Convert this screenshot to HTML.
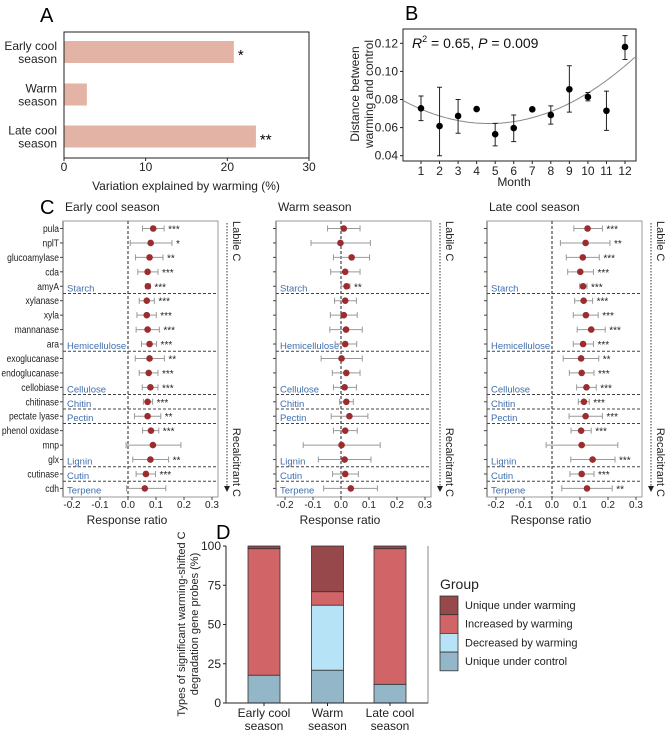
<!DOCTYPE html>
<html><head><meta charset="utf-8"><style>
body{margin:0;background:#fff}
svg{display:block;font-family:"Liberation Sans",Arial,sans-serif}
</style></head><body>
<svg id="fig" width="666" height="732" viewBox="0 0 666 732" xmlns="http://www.w3.org/2000/svg">
<g id="pA"></g>
<g id="pB"></g>
<g id="pC"></g>
<g id="pD"></g>
</svg>
<script>
// ---------- Panel A data ----------
const aCategories = [["Early cool","season"],["Warm","season"],["Late cool","season"]];
const aValues = [20.8, 2.8, 23.5];
const aSig = ["*","","**"];
const aTicks = [0,10,20,30];
// ---------- Panel B data ----------
const bMonths = [1,2,3,4,5,6,7,8,9,10,11,12];
const bMeans = [0.0737,0.0611,0.0683,0.0732,0.0553,0.0597,0.0730,0.0690,0.0873,0.0818,0.0720,0.1174];
const bLow = [0.065,0.040,0.056,null,0.047,0.050,null,0.0625,0.071,0.079,0.058,0.1085];
const bHigh = [0.0825,0.0887,0.080,null,0.063,0.069,null,0.0755,0.104,0.085,0.086,0.1255];
const bTicks = [0.04,0.06,0.08,0.10,0.12];
const bFit = [0.0795,-0.00712,0.000763];
// ---------- Panel C data ----------
const cGenes = ["pula","nplT","glucoamylase","cda","amyA","xylanase","xyla","mannanase","ara","exoglucanase","endoglucanase","cellobiase","chitinase","pectate lyase","phenol oxidase","mnp","glx","cutinase","cdh"];
const cGroups = [["Starch",4],["Hemicellulose",8],["Cellulose",11],["Chitin",12],["Pectin",13],["Lignin",16],["Cutin",17],["Terpene",18]];
const cTitles = ["Early cool season","Warm season","Late cool season"];
const cTicks = [-0.2,-0.1,0.0,0.1,0.2,0.3];
const earlyMean = [0.090,0.081,0.077,0.070,0.071,0.067,0.067,0.070,0.077,0.077,0.074,0.080,0.070,0.070,0.082,0.089,0.080,0.064,0.060];
const earlyLow  = [0.052,0.008,0.027,0.035,0.063,0.040,0.032,0.029,0.048,0.026,0.040,0.051,0.055,0.023,0.052,-0.007,0.017,0.029,-0.005];
const earlyHigh = [0.129,0.157,0.125,0.107,0.080,0.094,0.101,0.112,0.102,0.130,0.107,0.107,0.088,0.117,0.110,0.189,0.145,0.098,0.135];
const earlySig  = ["***","*","**","***","***","***","***","***","***","**","***","***","***","**","***","","**","***",""];
const warmMean = [0.010,-0.002,0.038,0.015,0.020,0.015,0.010,0.018,0.015,0.002,0.019,0.013,0.019,0.030,0.015,0.002,0.013,0.015,0.035];
const warmLow  = [-0.048,-0.107,-0.027,-0.037,0.001,-0.023,-0.038,-0.040,-0.021,-0.071,-0.031,-0.027,-0.005,-0.035,-0.027,-0.135,-0.081,-0.030,-0.062];
const warmHigh = [0.068,0.105,0.102,0.068,0.032,0.055,0.058,0.076,0.056,0.076,0.068,0.055,0.044,0.096,0.058,0.140,0.107,0.062,0.130];
const warmSig  = ["","","","","**","","","","","","","","","","","","","",""];
const lateMean = [0.127,0.120,0.110,0.101,0.111,0.113,0.121,0.140,0.111,0.104,0.106,0.123,0.114,0.120,0.104,0.106,0.145,0.106,0.125];
const lateLow  = [0.078,0.030,0.051,0.056,0.099,0.081,0.076,0.090,0.076,0.040,0.062,0.088,0.094,0.061,0.068,-0.021,0.067,0.064,0.035];
const lateHigh = [0.180,0.207,0.169,0.148,0.125,0.145,0.165,0.190,0.148,0.167,0.150,0.158,0.133,0.180,0.140,0.235,0.225,0.150,0.215];
const lateSig  = ["***","**","***","***","***","***","***","***","***","**","***","***","***","***","***","","***","***","**"];
// ---------- Panel D data ----------
const dCategories = [["Early cool","season"],["Warm","season"],["Late cool","season"]];
const dControl = [17.7,20.9,11.9];
const dDecreased = [0,41.4,0];
const dIncreased = [80.6,8.6,86.4];
const dUniqueW = [1.7,29.1,1.7];
const dTicks = [0,25,50,75,100];
const dLegend = ["Unique under warming","Increased by warming","Decreased by warming","Unique under control"];
const dColors = ["#96484b","#d06466","#b7e3f7","#94b6c9"];

const NS="http://www.w3.org/2000/svg";
function mk(parent,tag,attrs,text){const e=document.createElementNS(NS,tag);for(const k in attrs)e.setAttribute(k,attrs[k]);if(text!==undefined)e.textContent=text;parent.appendChild(e);return e;}

// ===== Panel A =====
(function(){
const g=document.getElementById('pA');
const L=64,R=309,T=32,B=158;
const x=v=>L+(v-0)/(30-0)*(R-L);
const yc=[52,94.5,136.5];
const lab=mk(g,'text',{x:40,y:22,'font-size':20},'A');

aValues.forEach((v,i)=>{
 const r=mk(g,'rect',{x:L,y:yc[i]-11,width:x(v)-L,height:22,fill:'#e3b3a5'});
 
 
 if(aSig[i]){const s=mk(g,'text',{x:x(v)+4,y:yc[i]+8,'font-size':15},aSig[i]);
 }
 aCategories[i].forEach((t,j)=>{const tx=mk(g,'text',{x:57,y:yc[i]-2+j*13,'font-size':12,'text-anchor':'end',fill:'#222'},t);
 });
});
const bx=mk(g,'rect',{x:L,y:T,width:R-L,height:B-T,fill:'none',stroke:'#222','stroke-width':1});

aTicks.forEach(t=>{mk(g,'line',{x1:x(t),x2:x(t),y1:B,y2:B+3,stroke:'#222'});
 const tx=mk(g,'text',{x:x(t),y:171,'font-size':12,'text-anchor':'middle',fill:'#222'},t);
 });
const xt=mk(g,'text',{x:186,y:190,'font-size':12,'text-anchor':'middle',fill:'#222'},'Variation explained by warming (%)');

})();

// ===== Panel B =====
(function(){
const g=document.getElementById('pB');
const L=403,R=636,T=29,B=161;
const x=m=>421+(m-1)*(625-421)/11;
const y=v=>43.3+(0.12-v)/0.08*(155.7-43.3);
const lab=mk(g,'text',{x:405,y:20,'font-size':20},'B');

const bx=mk(g,'rect',{x:L,y:T,width:R-L,height:B-T,fill:'none',stroke:'#222'});

bTicks.forEach(t=>{mk(g,'line',{x1:L-3,x2:L,y1:y(t),y2:y(t),stroke:'#222'});
 const tx=mk(g,'text',{x:L-5,y:y(t)+4,'font-size':12,'text-anchor':'end',fill:'#222'},t.toFixed(2));
 });
bMonths.forEach(m=>{mk(g,'line',{x1:x(m),x2:x(m),y1:B,y2:B+3,stroke:'#222'});
 const tx=mk(g,'text',{x:x(m),y:175,'font-size':12,'text-anchor':'middle',fill:'#222'},m);
 });
let d='';for(let m=0.03;m<=12.6;m+=0.1){const v=bFit[0]+bFit[1]*m+bFit[2]*m*m;d+=(d?'L':'M')+x(m).toFixed(1)+','+y(v).toFixed(1);}
const fl=mk(g,'path',{d:d,fill:'none',stroke:'#888','stroke-width':1});

bMonths.forEach((m,i)=>{
 if(bLow[i]!==null){const e=mk(g,'path',{d:`M${x(m)-2.5},${y(bHigh[i])}H${x(m)+2.5}M${x(m)},${y(bHigh[i])}V${y(bLow[i])}M${x(m)-2.5},${y(bLow[i])}H${x(m)+2.5}`,stroke:'#222',fill:'none'});
 }
 const c=mk(g,'circle',{cx:x(m),cy:y(bMeans[i]),r:3.3,fill:'#000'});
 
});
const st=mk(g,'text',{x:412,y:48,'font-size':14,fill:'#111'});

st.innerHTML='<tspan font-style="italic">R</tspan><tspan font-size="9" dy="-6">2</tspan><tspan dy="6"> = 0.65, </tspan><tspan font-style="italic">P</tspan><tspan> = 0.009</tspan>';
const xt=mk(g,'text',{x:514,y:186,'font-size':12,'text-anchor':'middle',fill:'#222'},'Month');

const yt=mk(g,'text',{transform:'translate(366,94) rotate(-90)','font-size':12,'text-anchor':'middle',fill:'#222'});

yt.innerHTML='<tspan x="0" dy="-7">Distance between</tspan><tspan x="0" dy="14">warming and control</tspan>';
})();

// ===== Panel C =====
(function(){
const g=document.getElementById('pC');
const lab=mk(g,'text',{x:40,y:214,'font-size':20},'C');

const lefts=[63,276,487];
const means=[earlyMean,warmMean,lateMean],lows=[earlyLow,warmLow,lateLow],highs=[earlyHigh,warmHigh,lateHigh],sigs=[earlySig,warmSig,lateSig];
const T=221,B=497,W=155;
const y=i=>228.5+i*14.44;
lefts.forEach((L,p)=>{
 const sg=mk(g,'g',{});
 
 const x=v=>L+65+v*280;
 const tt=mk(sg,'text',{x:L+2,y:211,'font-size':12,fill:'#222'},cTitles[p]);
 
 const bx=mk(sg,'rect',{x:L,y:T,width:W,height:B-T,fill:'none',stroke:'#999'});
 
 mk(sg,'line',{x1:L,x2:L,y1:T,y2:B,stroke:'#aaa','stroke-width':2});
 mk(sg,'line',{x1:x(0),x2:x(0),y1:T,y2:B,stroke:'#222','stroke-dasharray':'3,2'});
 cGroups.forEach((gr,k)=>{
  if(k<cGroups.length-1){const yy=(y(gr[1])+y(gr[1]+1))/2;mk(sg,'line',{x1:L,x2:L+W,y1:yy,y2:yy,stroke:'#444','stroke-dasharray':'3,2'});}
  const t=mk(sg,'text',{x:L+4,y:y(gr[1])+5,'font-size':9.5,fill:'#3f6fae'},gr[0]);
  
 });
 const lg=mk(sg,'g',{transform:`translate(${L-4},0) scale(0.85,1)`});
 cGenes.forEach((gn,i)=>{
  mk(sg,'line',{x1:L-3,x2:L,y1:y(i),y2:y(i),stroke:'#444'});
  if(p===0){const t=mk(lg,'text',{x:0,y:y(i)+3.5,'font-size':10,'text-anchor':'end',fill:'#222'},gn);
  }
  const lo=x(lows[p][i]),hi=x(highs[p][i]),yy=y(i);
  const e=mk(sg,'path',{d:`M${lo},${yy-3}V${yy+3}M${lo},${yy}H${hi}M${hi},${yy-3}V${yy+3}`,stroke:'#999',fill:'none'});
  
  const c=mk(sg,'circle',{cx:x(means[p][i]),cy:yy,r:3.3,fill:'#9b2d30'});
  
  if(sigs[p][i]){const s=mk(sg,'text',{x:hi+4,y:yy+4,'font-size':10,fill:'#222'},sigs[p][i]);
  }
 });
 cTicks.forEach(t=>{mk(sg,'line',{x1:x(t),x2:x(t),y1:B,y2:B+3,stroke:'#444'});
  const tx=mk(sg,'text',{x:x(t),y:508,'font-size':10,'text-anchor':'middle',fill:'#222'},t.toFixed(1));
  });
 const xt=mk(sg,'text',{x:L+64,y:524,'font-size':12,'text-anchor':'middle',fill:'#222'},'Response ratio');
 
 const rx=L+W+9;
 mk(sg,'line',{x1:rx,x2:rx,y1:T+2,y2:487,stroke:'#333','stroke-dasharray':'1.5,1.5'});
 mk(sg,'path',{d:`M${rx-3},486L${rx+3},486L${rx},492Z`,fill:'#222'});
 const t1=mk(sg,'text',{transform:`translate(${rx+6},${T}) rotate(90)`,'font-size':11,fill:'#222'},'Labile C');
 
 const t2=mk(sg,'text',{transform:`translate(${rx+6},${B}) rotate(90)`,'font-size':11,'text-anchor':'end',fill:'#222'},'Recalcitrant C');
 
});
})();

// ===== Panel D =====
(function(){
const g=document.getElementById('pD');
const L=226,R=428,T=546,B=703;
const y=v=>B-v/100*(B-T);
const xc=[264,327.5,390],bw=32;
const lab=mk(g,'text',{x:216,y:539,'font-size':20},'D');

const series=[dControl,dDecreased,dIncreased,dUniqueW];
const cols=[dColors[3],dColors[2],dColors[1],dColors[0]];
const names=['unique-control','decreased','increased','unique-warming'];
xc.forEach((cx,i)=>{
 let acc=0;
 series.forEach((s,k)=>{
  if(s[i]>0){const r=mk(g,'rect',{x:cx-bw/2,y:y(acc+s[i]),width:bw,height:y(acc)-y(acc+s[i]),fill:cols[k],stroke:'#333','stroke-width':0.8});
  }
  acc+=s[i];
 });
 mk(g,'line',{x1:cx,x2:cx,y1:B,y2:B+3,stroke:'#222'});
 dCategories[i].forEach((t,j)=>{const tx=mk(g,'text',{x:cx,y:717+j*13,'font-size':12,'text-anchor':'middle',fill:'#222'},t);
 });
});
mk(g,'path',{d:`M${L},${T}V${B}H${R}V${T}`,fill:'none',stroke:'#888'});
mk(g,'line',{x1:L,x2:L,y1:T,y2:B,stroke:'#222'});
mk(g,'line',{x1:L,x2:R,y1:B,y2:B,stroke:'#222'});
dTicks.forEach(t=>{mk(g,'line',{x1:L-3,x2:L,y1:y(t),y2:y(t),stroke:'#222'});
 const tx=mk(g,'text',{x:L-5,y:y(t)+4,'font-size':12,'text-anchor':'end',fill:'#222'},t);
 });
const yt=mk(g,'text',{transform:'translate(191,624) rotate(-90)','font-size':11,'text-anchor':'middle',fill:'#222'});

yt.innerHTML='<tspan x="0" dy="-6">Types of significant warming-shifted C</tspan><tspan x="0" dy="13">degradation gene probes (%)</tspan>';
const lt=mk(g,'text',{x:440,y:589,'font-size':14,fill:'#222'},'Group');

dLegend.forEach((t,k)=>{
 const yy=596+k*18.7;
 const r=mk(g,'rect',{x:440,y:yy,width:18,height:18.7,fill:dColors[k],stroke:'#333','stroke-width':0.8});
 
 const tx=mk(g,'text',{x:465,y:yy+13,'font-size':11,fill:'#222'},t);
 
});
})();
</script>
</body></html>
